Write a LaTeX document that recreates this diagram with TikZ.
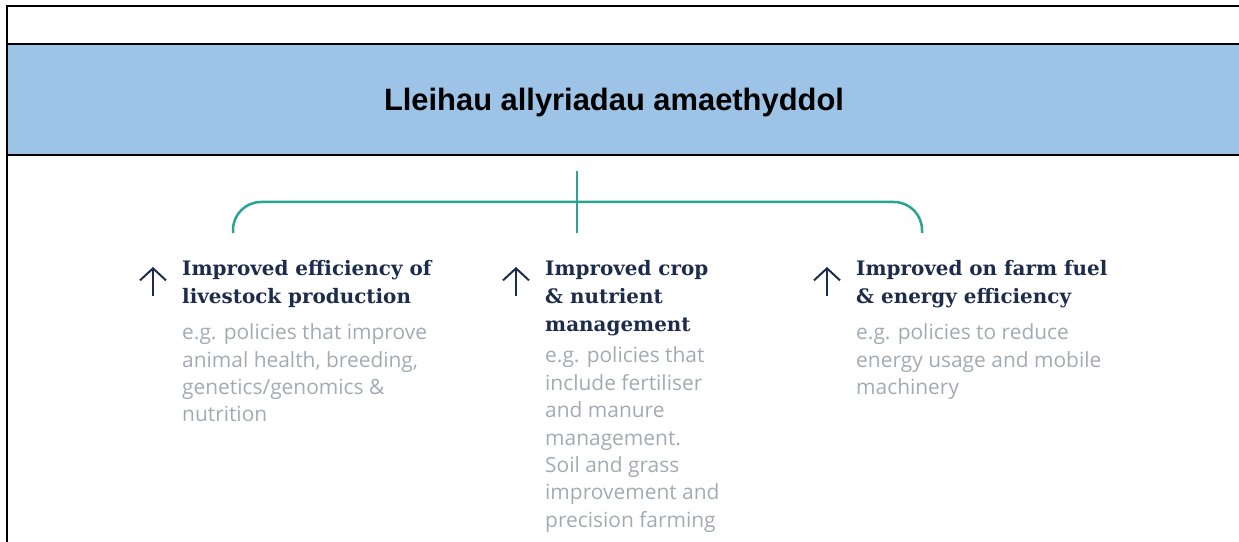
\documentclass[tikz,border=0pt]{standalone}
\usepackage{fontspec}
\setmainfont{Liberation Sans}
\newfontfamily\headfont{DejaVu Serif}
\newfontfamily\bodyfont{Open Sans}
\usetikzlibrary{arrows.meta,positioning}
\definecolor{banner}{HTML}{9DC3E6}
\definecolor{branch}{HTML}{2BA393}
\definecolor{navy}{HTML}{1E2C4C}
\definecolor{greytext}{HTML}{A3AAB2}
\tikzset{
    frame/.style={draw=black, line width=2bp},
    head/.style={anchor=north west, inner sep=0pt, align=left, text=navy, font=\headfont\bfseries\fontsize{20}{28}\selectfont},
    body/.style={inner sep=0pt, align=left, text=greytext, font=\bodyfont\fontsize{21}{27.5}\selectfont},
    bracket/.style={draw=branch, line width=2.5bp},
    uparrow/.style={draw=navy, line width=2bp, -{Straight Barb[length=12bp,width=26bp]}}
}

\begin{document}
\begin{tikzpicture}[x=1bp, y=-1bp]
    \useasboundingbox (0,0) rectangle (1239,542);
    \fill[banner] (7,44) rectangle (1239,155);
    \draw[frame] (7,44) -- (1239,44);
    \draw[frame] (7,155) -- (1239,155);
    \draw[frame] (1239,6) -| (7,542);
    \node[anchor=base, inner sep=0pt, font=\bfseries\fontsize{31}{36}\selectfont] (title) at (614,111) {Lleihau allyriadau amaethyddol};
    \coordinate (stem) at (577,171);
    \coordinate (mid) at (577,233);
    \coordinate (left) at (233,233);
    \coordinate (right) at (922,233);
    \draw[bracket, rounded corners=28bp] (left) |- (mid |- 0,202) -| (right);
    \draw[bracket] (stem) -- (mid);
    \node[head] (h1) at (182,260) {Improved efficiency of\\livestock production};
    \node[head] (h2) at (545,260) {Improved crop\\\& nutrient\\management};
    \node[head] (h3) at (856,260) {Improved on farm fuel\\\& energy efficiency};
    \node[body, below=16bp of h1.south west, anchor=north west] (b1) {e.g. policies that improve\\animal health, breeding,\\genetics/genomics \&\\nutrition};
    \node[body, below=11bp of h2.south west, anchor=north west] (b2) {e.g. policies that\\include fertiliser\\and manure\\management.\\Soil and grass\\improvement and\\precision farming};
    \node[body, below=16bp of h3.south west, anchor=north west] (b3) {e.g. policies to reduce\\energy usage and mobile\\machinery};
    \foreach \h in {h1,h2,h3}
        \draw[uparrow] ([shift={(-29,36)}]\h.north west) -- ++(0,-29);
\end{tikzpicture}
\end{document}
